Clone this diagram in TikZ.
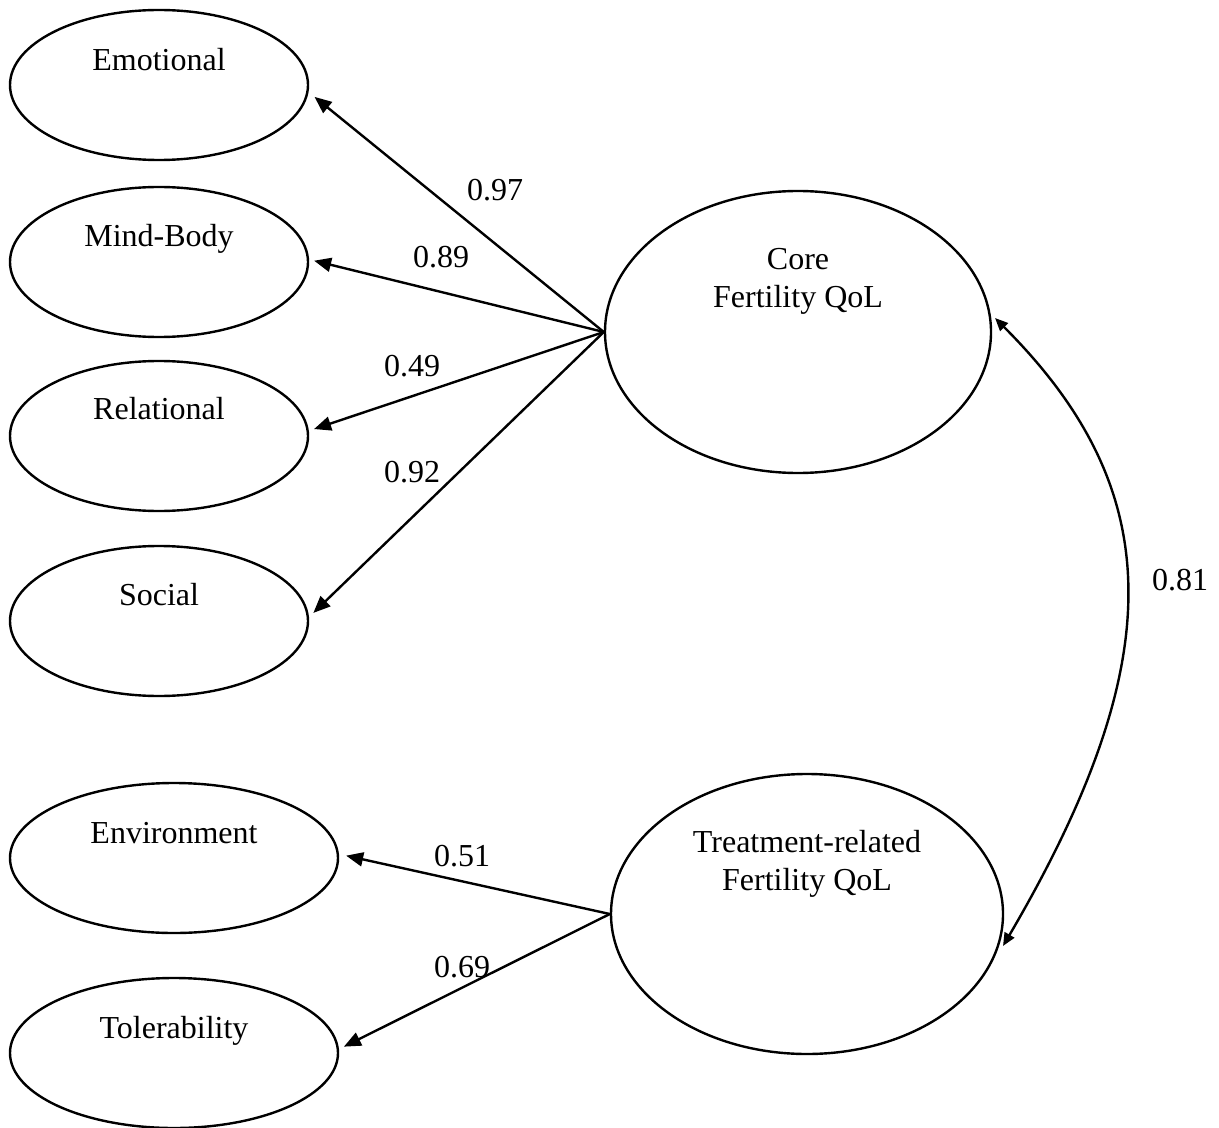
\documentclass[tikz,border=0pt]{standalone}
\usepackage{fontspec}
\setmainfont{Liberation Serif}
\usetikzlibrary{shapes.geometric,arrows.meta}
\begin{document}
\begin{tikzpicture}[x=0.5pt,y=-0.5pt,
  lat/.style={draw,line width=1.2pt,ellipse,inner sep=0pt},
  txt/.style={font=\fontsize{16}{19}\selectfont,inner sep=0pt,anchor=base},
  num/.style={font=\fontsize{16}{19}\selectfont,inner sep=0pt},
  arr/.style={line width=1.2pt,-{Triangle[length=8.5pt,width=7pt]},shorten >=1.5pt},
  carr/.style={line width=1.2pt,{Triangle[length=6.5pt,width=5.5pt]}-{Triangle[length=6.5pt,width=5.5pt]}}]
\useasboundingbox (0,0) rectangle (1219,1128);
% ellipses
\node[lat,minimum width=149pt,minimum height=75pt] (emo) at (159,85) {};
\node[lat,minimum width=149pt,minimum height=75pt] (mb) at (159,262) {};
\node[lat,minimum width=149pt,minimum height=75pt] (rel) at (159,436) {};
\node[lat,minimum width=149pt,minimum height=75pt] (soc) at (159,621) {};
\node[lat,minimum width=164pt,minimum height=75pt] (env) at (174,858) {};
\node[lat,minimum width=164pt,minimum height=75pt] (tol) at (174,1053) {};
\node[lat,minimum width=193pt,minimum height=141pt] (core) at (798,332) {};
\node[lat,minimum width=196pt,minimum height=140pt] (trt) at (807,914) {};
% texts
\node[txt] (temo) at (159,71) {Emotional};
\node[txt] (tmb) at (159,247) {Mind-Body};
\node[txt] (trel) at (159,419) {Relational};
\node[txt] (tsoc) at (159,605) {Social};
\node[txt] (tenv) at (174,843) {Environment};
\node[txt] (ttol) at (174,1038) {Tolerability};
\node[txt] (tcore1) at (798,270) {Core};
\node[txt] (tcore2) at (798,307) {Fertility QoL};
\node[txt] (ttrt1) at (807,852) {Treatment-related};
\node[txt] (ttrt2) at (807,890) {Fertility QoL};
% arrows
\draw[arr] (core.west) -- ([shift={(3,10)}]emo.east);
\draw[arr] (core.west) -- ([shift={(2,-2)}]mb.east);
\draw[arr] (core.west) -- ([shift={(2,-6)}]rel.east);
\draw[arr] (core.west) -- ([shift={(2,-6)}]soc.east);
\draw[arr] (trt.west) -- ([shift={(4,-3)}]env.east);
\draw[arr] (trt.west) -- ([shift={(2,-5)}]tol.east);
\coordinate (ctop) at (995,318);
\coordinate (cbot) at (1003,946);
\draw[carr] (ctop) .. controls (1165,488) and (1173,656) .. (cbot);
% numbers
\node[num] (n97) at (495,190) {0.97};
\node[num] (n89) at (441,257) {0.89};
\node[num] (n49) at (412,366) {0.49};
\node[num] (n92) at (412,472) {0.92};
\node[num] (n81) at (1180,580) {0.81};
\node[num] (n51) at (462,856) {0.51};
\node[num] (n69) at (462,967) {0.69};
\end{tikzpicture}
\end{document}
